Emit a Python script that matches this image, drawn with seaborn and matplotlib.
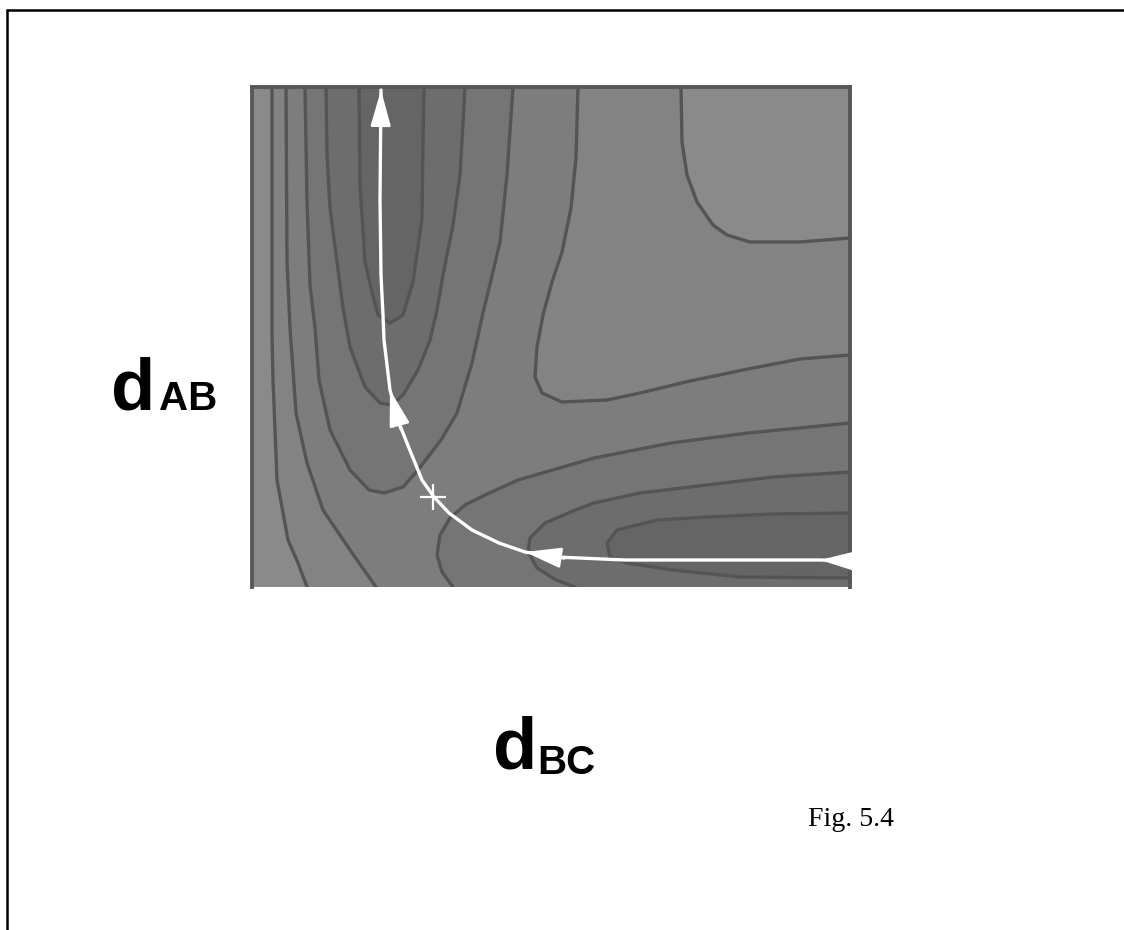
import numpy as np
import matplotlib
matplotlib.use("Agg")
import matplotlib.pyplot as plt
from matplotlib.lines import Line2D
import seaborn as sns

sns.set_style("white")
plt.rcParams["font.family"] = ["Liberation Sans", "DejaVu Sans"]
plt.rcParams["text.color"] = "black"

# ---------------- data ----------------
# axis ranges: x = d_BC, y = d_AB (arbitrary distance units)
x_lim = (0.0, 5.98)
y_lim = (0.0, 5.0)

# contour level boundaries (traces), band k|k+1
wall45_x = [0.20, 0.20, 0.20, 0.21, 0.25, 0.36, 0.46, 0.55]
wall45_y = [5.00, 3.87, 2.52, 2.07, 1.07, 0.47, 0.24, 0.00]

wall34_x = [0.34, 0.35, 0.38, 0.44, 0.55, 0.71, 0.98, 1.24]
wall34_y = [5.00, 3.25, 2.59, 1.74, 1.24, 0.77, 0.37, 0.00]

ent23_x = [0.53, 0.55, 0.58, 0.63, 0.67, 0.78, 0.98, 1.17, 1.32, 1.51, 1.66, 1.89, 2.05, 2.20, 2.31, 2.39, 2.48, 2.55, 2.61]
ent23_y = [5.00, 3.85, 3.02, 2.59, 2.07, 1.57, 1.17, 0.97, 0.94, 1.00, 1.17, 1.47, 1.74, 2.24, 2.74, 3.07, 3.45, 4.12, 5.00]

ent12_x = [0.74, 0.75, 0.78, 0.85, 0.91, 0.98, 1.13, 1.28, 1.40, 1.51, 1.66, 1.78, 1.85, 1.91, 2.01, 2.08, 2.13]
ent12_y = [5.00, 4.32, 3.79, 3.25, 2.79, 2.40, 2.00, 1.84, 1.82, 1.92, 2.17, 2.47, 2.77, 3.12, 3.62, 4.12, 5.00]

ent01_x = [1.07, 1.08, 1.13, 1.20, 1.26, 1.38, 1.51, 1.61, 1.70, 1.71, 1.72]
ent01_y = [5.00, 4.02, 3.25, 2.95, 2.72, 2.64, 2.72, 3.05, 3.69, 4.45, 5.00]

ext23_x = [2.01, 1.90, 1.85, 1.88, 1.98, 2.13, 2.33, 2.66, 3.42, 4.19, 4.96, 5.98]
ext23_y = [0.00, 0.15, 0.32, 0.52, 0.69, 0.82, 0.92, 1.07, 1.29, 1.44, 1.54, 1.64]

ext12_x = [3.23, 3.04, 2.85, 2.76, 2.78, 2.93, 3.21, 3.42, 3.88, 4.55, 5.21, 5.98]
ext12_y = [0.00, 0.07, 0.19, 0.35, 0.49, 0.64, 0.76, 0.84, 0.94, 1.02, 1.10, 1.15]

ext01_x = [5.98, 5.21, 4.55, 4.05, 3.65, 3.55, 3.58, 3.75, 4.21, 4.88, 5.98]
ext01_y = [0.74, 0.73, 0.70, 0.67, 0.57, 0.44, 0.30, 0.24, 0.17, 0.10, 0.09]

ridge34_x = [3.26, 3.24, 3.19, 3.10, 3.00, 2.91, 2.85, 2.83, 2.90, 3.10, 3.55, 3.88, 4.38, 4.96, 5.48, 5.98]
ridge34_y = [5.00, 4.29, 3.79, 3.35, 3.05, 2.72, 2.40, 2.10, 1.94, 1.85, 1.87, 1.94, 2.06, 2.18, 2.28, 2.32]

plateau45_x = [4.29, 4.30, 4.35, 4.45, 4.61, 4.75, 4.98, 5.48, 5.98]
plateau45_y = [5.00, 4.45, 4.12, 3.85, 3.62, 3.52, 3.45, 3.45, 3.49]

# minimum energy path and saddle point
path_x = [1.29, 1.28, 1.29, 1.31, 1.32, 1.38, 1.47, 1.59, 1.70, 1.82, 1.97, 2.20, 2.47, 2.73, 3.04, 3.73, 5.11, 5.68, 5.98]
path_y = [4.97, 3.87, 3.12, 2.72, 2.47, 1.97, 1.64, 1.34, 1.07, 0.90, 0.74, 0.57, 0.44, 0.35, 0.30, 0.27, 0.27, 0.27, 0.26]
arrow_idx = [0, 5, 13, 17]
saddle_x = [1.81]
saddle_y = [0.90]

# band colours (0 = lowest energy)
band_colors = ["#656565", "#6d6d6d", "#757575", "#7d7d7d", "#838383", "#8a8a8a"]
line_color = "#545454"

# ---------------- figure ----------------
W, H = 1124, 930
fig = plt.figure(figsize=(W / 100, H / 100), dpi=100)
fig.patch.set_facecolor("white")
ax = fig.add_axes([252 / W, (H - 587) / H, 598 / W, 500 / H])
ax.set_facecolor(band_colors[5])
ax.set_xlim(*x_lim)
ax.set_ylim(*y_lim)

xmax, ymin = x_lim[1], y_lim[0]

def fill(xs, ys, c):
    ax.fill(xs, ys, color=c, lw=0, zorder=1)

# sub-level regions, lighter first
fill(wall45_x + [xmax] + plateau45_x[::-1], wall45_y + [ymin] + plateau45_y[::-1], band_colors[4])
fill(wall34_x + [xmax] + ridge34_x[::-1], wall34_y + [ymin] + ridge34_y[::-1], band_colors[3])
fill(ent23_x, ent23_y, band_colors[2])
fill(ext23_x + [xmax], ext23_y + [ymin], band_colors[2])
fill(ent12_x, ent12_y, band_colors[1])
fill(ext12_x + [xmax], ext12_y + [ymin], band_colors[1])
fill(ent01_x, ent01_y, band_colors[0])
fill(ext01_x, ext01_y, band_colors[0])

# contour lines
for xs, ys in [(wall45_x, wall45_y), (wall34_x, wall34_y), (ent23_x, ent23_y),
               (ent12_x, ent12_y), (ent01_x, ent01_y), (ext23_x, ext23_y),
               (ext12_x, ext12_y), (ext01_x, ext01_y), (ridge34_x, ridge34_y),
               (plateau45_x, plateau45_y)]:
    sns.lineplot(x=xs, y=ys, sort=False, estimator=None, color=line_color,
                 linewidth=2.4, ax=ax, zorder=2)

# reaction path
sns.lineplot(x=path_x, y=path_y, sort=False, estimator=None, color="white",
             linewidth=2.4, ax=ax, zorder=4)
for i in arrow_idx:
    tip = np.array([path_x[i], path_y[i]])
    prev = np.array([path_x[i + 1], path_y[i + 1]])
    d = tip - prev
    d = d / np.hypot(*d)
    ax.annotate("", xy=tip, xytext=tip - d * 0.4,
                arrowprops=dict(arrowstyle="-|>,head_length=2.2,head_width=0.62",
                                mutation_scale=10, color="white", lw=2.0,
                                shrinkA=0, shrinkB=0), zorder=5)
sns.scatterplot(x=saddle_x, y=saddle_y, marker="+", s=330, color="white",
                linewidth=1.6, ax=ax, zorder=6)

ax.set_xticks([])
ax.set_yticks([])
ax.set_xlabel("")
ax.set_ylabel("")
for side in ["top", "left", "right"]:
    ax.spines[side].set_color("#575757")
    ax.spines[side].set_linewidth(2.8)
ax.spines["bottom"].set_visible(False)

# axis labels (large bold with subscripts)
fig.text(111 / W, 1 - 409 / H, "d", fontsize=52, fontweight="bold", va="baseline", ha="left", color="black")
fig.text(159 / W, 1 - 410 / H, "AB", fontsize=29, fontweight="bold", va="baseline", ha="left", color="black")
fig.text(493 / W, 1 - 768 / H, "d", fontsize=52, fontweight="bold", va="baseline", ha="left", color="black")
fig.text(537 / W, 1 - 774 / H, "BC", fontsize=29, fontweight="bold", va="baseline", ha="left", color="black")
fig.text(808 / W, 1 - 826 / H, "Fig. 5.4", fontsize=20, family="Liberation Serif",
         va="baseline", ha="left", color="black")

# page frame
fig.add_artist(Line2D([7 / W, 7 / W], [0, 1 - 10 / H], transform=fig.transFigure,
                      color="black", lw=1.8))
fig.add_artist(Line2D([7 / W, 1], [1 - 10 / H, 1 - 10 / H], transform=fig.transFigure,
                      color="black", lw=1.8))

fig.savefig("out.png", dpi=100, facecolor="white")
